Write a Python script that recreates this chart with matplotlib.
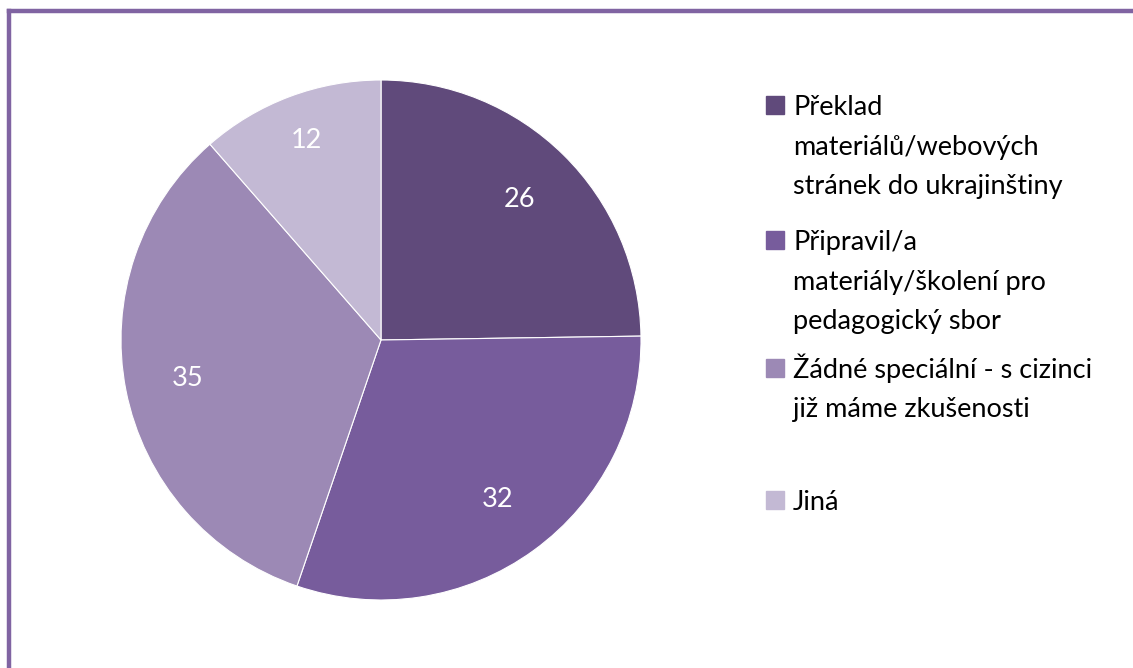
import matplotlib.pyplot as plt
from matplotlib.patches import Rectangle
from matplotlib.lines import Line2D

# data
labels = [
    "Překlad\nmateriálů/webových\nstránek do ukrajinštiny",
    "Připravil/a\nmateriály/školení pro\npedagogický sbor",
    "Žádné speciální - s cizinci\njiž máme zkušenosti",
    "Jiná",
]
values = [26, 32, 35, 12]
colors = ["#604A7B", "#775C9C", "#9C89B5", "#C3B9D4"]

plt.rcParams["font.family"] = ["Lato", "DejaVu Sans"]

W, H = 1133, 668
fig = plt.figure(figsize=(W / 100, H / 100), dpi=100)

# frame lines on top and left like the original
fig.add_artist(Line2D([8.5 / W, 1], [1 - 11 / H, 1 - 11 / H], color="#8064A2", lw=3.2))
fig.add_artist(Line2D([8.5 / W, 8.5 / W], [0, 1 - 11 / H], color="#8064A2", lw=3.2))

cx, cy, r = 381, 340, 260
ax = fig.add_axes([(cx - r) / W, 1 - (cy + r) / H, 2 * r / W, 2 * r / H])
wedges, texts, autotexts = ax.pie(
    values, colors=colors, startangle=90, counterclock=False,
    autopct=lambda p: "%d" % round(p * sum(values) / 100),
    pctdistance=0.76, wedgeprops=dict(linewidth=0.8, edgecolor="white"),
    textprops=dict(color="white", fontsize=19.5),
)
# small slice label sits a bit further out
x, y = autotexts[3].get_position()
autotexts[3].set_position((x * 1.08, y * 1.08))
ax.set_xlim(-1, 1)
ax.set_ylim(-1, 1)
ax.set_aspect("auto")

# legend drawn by hand, one text per line
first_y = [105, 240, 368, 500]
step = 39.5
for y, lab, c in zip(first_y, labels, colors):
    fig.add_artist(Rectangle((766 / W, 1 - (y + 9) / H), 18 / W, 18 / H,
                             color=c, transform=fig.transFigure))
    for i, line in enumerate(lab.split("\n")):
        fig.text(793 / W, 1 - (y + 10 + i * step) / H, line, fontsize=19.5,
                 va="baseline", ha="left", color="black")

fig.savefig("out.png", dpi=100)
